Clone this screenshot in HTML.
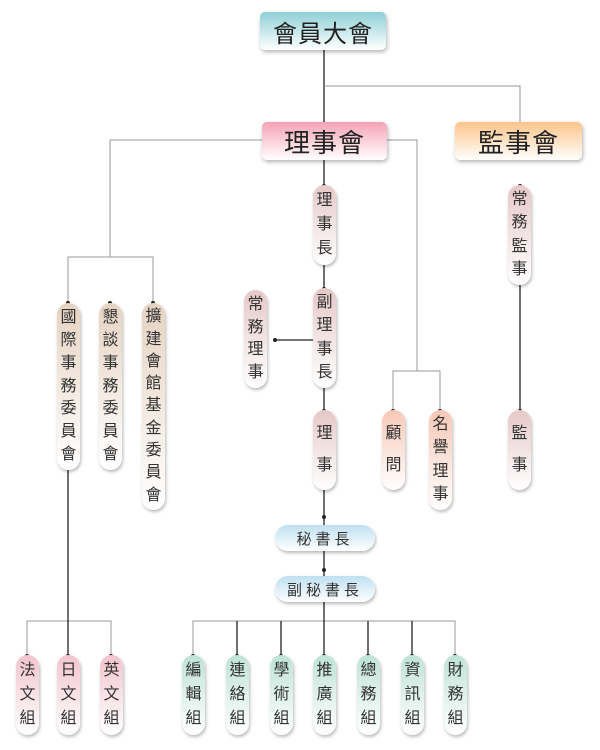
<!DOCTYPE html>
<html><head><meta charset="utf-8"><style>
body{margin:0;width:600px;height:750px;background:#fff;position:relative;overflow:hidden;font-family:"Liberation Sans","Noto Sans CJK TC",sans-serif;}
svg{position:absolute;left:0;top:0}
.box{position:absolute;border-radius:5px;box-shadow:1px 2px 4px rgba(0,0,0,.3);display:flex;align-items:center;justify-content:center;color:#222;letter-spacing:1px}
.p{position:absolute;width:23px;border-radius:12px;box-shadow:1px 2px 3px rgba(0,0,0,.28);display:flex;flex-direction:column;align-items:center;justify-content:space-evenly;font-size:16px;color:#333;line-height:1}
.h{position:absolute;border-radius:13px;box-shadow:1px 2px 3px rgba(0,0,0,.28);display:flex;align-items:center;justify-content:center;font-size:15px;color:#333;letter-spacing:4px;background:linear-gradient(#bfe0f0,#fff)}
.pk{background:linear-gradient(#f2c4cf,#fff)}
.gr{background:linear-gradient(#bfe3d6,#fff)}
.bg{background:linear-gradient(#e6d3c1,#fff)}
.rs{background:linear-gradient(#e6c8c8,#fff)}
.pe{background:linear-gradient(#f7c8b6,#fff)}
</style></head><body>
<svg width="600" height="750">
<g stroke="#999" stroke-width="1" fill="none">
<path d="M325 86H520V122"/>
<path d="M387 140H417V371M393 412V371H440V412"/>
<path d="M262 140H110V257M68 303V257H153V303"/>
<path d="M193 655V621H455V655"/>
<path d="M27 655V621H111V655"/>
</g>
<g stroke="#222" stroke-width="1.3" fill="none">
<path d="M324 50V122M324 160V185M324 265V288M324 388V410M324 490V525M324 551V576M324 602V655"/>
<path d="M275 340H313"/>
<path d="M520 285V410"/>
<path d="M68 470V655"/>
<path d="M237 621V655M281 621V655M368 621V655M412 621V655"/>
</g>
<g fill="#222">
<circle cx="324" cy="186" r="2"/><circle cx="324" cy="289" r="2"/><circle cx="324" cy="411" r="2"/><circle cx="324" cy="517" r="2"/><circle cx="324" cy="570" r="2"/>
<circle cx="275" cy="340" r="2"/><circle cx="520" cy="186" r="2"/><circle cx="520" cy="411" r="2"/>
<circle cx="393" cy="411" r="2"/><circle cx="440" cy="411" r="2"/>
<circle cx="68" cy="303" r="2"/><circle cx="110" cy="303" r="2"/><circle cx="153" cy="303" r="2"/>
<circle cx="27" cy="656" r="2"/><circle cx="68" cy="656" r="2"/><circle cx="111" cy="656" r="2"/>
<circle cx="193" cy="656" r="2"/><circle cx="237" cy="656" r="2"/><circle cx="281" cy="656" r="2"/><circle cx="324" cy="656" r="2"/><circle cx="368" cy="656" r="2"/><circle cx="412" cy="656" r="2"/><circle cx="455" cy="656" r="2"/>
</g>
</svg>
<div class="box" style="left:260px;top:12px;width:126px;height:38px;font-size:24px;background:linear-gradient(#8fd0d6,#fff)">會員大會</div>
<div class="box" style="left:262px;top:122px;width:125px;height:38px;font-size:26px;background:linear-gradient(#f4a3b6,#fff)">理事會</div>
<div class="box" style="left:455px;top:122px;width:127px;height:38px;font-size:26px;background:linear-gradient(#fcc48a,#fff)">監事會</div>

<div class="p rs" style="left:313px;top:185px;height:80px"><span>理</span><span>事</span><span>長</span></div>
<div class="p rs" style="left:508px;top:185px;height:100px"><span>常</span><span>務</span><span>監</span><span>事</span></div>
<div class="p rs" style="left:313px;top:288px;height:100px"><span>副</span><span>理</span><span>事</span><span>長</span></div>
<div class="p rs" style="left:244px;top:290px;height:98px"><span>常</span><span>務</span><span>理</span><span>事</span></div>
<div class="p rs" style="left:313px;top:410px;height:80px"><span>理</span><span>事</span></div>
<div class="p pe" style="left:382px;top:410px;height:80px"><span>顧</span><span>問</span></div>
<div class="p pe" style="left:429px;top:410px;height:100px"><span>名</span><span>譽</span><span>理</span><span>事</span></div>
<div class="p rs" style="left:508px;top:410px;height:80px"><span>監</span><span>事</span></div>

<div class="p bg" style="left:57px;top:303px;height:167px"><span>國</span><span>際</span><span>事</span><span>務</span><span>委</span><span>員</span><span>會</span></div>
<div class="p bg" style="left:99px;top:303px;height:167px"><span>懇</span><span>談</span><span>事</span><span>務</span><span>委</span><span>員</span><span>會</span></div>
<div class="p bg" style="left:142px;top:303px;height:207px"><span>擴</span><span>建</span><span>會</span><span>館</span><span>基</span><span>金</span><span>委</span><span>員</span><span>會</span></div>

<div class="h" style="left:275px;top:525px;width:100px;height:26px">秘書長</div>
<div class="h" style="left:275px;top:576px;width:100px;height:26px">副秘書長</div>

<div class="p pk" style="left:16px;top:655px;height:80px"><span>法</span><span>文</span><span>組</span></div>
<div class="p pk" style="left:57px;top:655px;height:80px"><span>日</span><span>文</span><span>組</span></div>
<div class="p pk" style="left:100px;top:655px;height:80px"><span>英</span><span>文</span><span>組</span></div>

<div class="p gr" style="left:182px;top:655px;height:80px"><span>編</span><span>輯</span><span>組</span></div>
<div class="p gr" style="left:226px;top:655px;height:80px"><span>連</span><span>絡</span><span>組</span></div>
<div class="p gr" style="left:270px;top:655px;height:80px"><span>學</span><span>術</span><span>組</span></div>
<div class="p gr" style="left:313px;top:655px;height:80px"><span>推</span><span>廣</span><span>組</span></div>
<div class="p gr" style="left:357px;top:655px;height:80px"><span>總</span><span>務</span><span>組</span></div>
<div class="p gr" style="left:401px;top:655px;height:80px"><span>資</span><span>訊</span><span>組</span></div>
<div class="p gr" style="left:444px;top:655px;height:80px"><span>財</span><span>務</span><span>組</span></div>
</body></html>
